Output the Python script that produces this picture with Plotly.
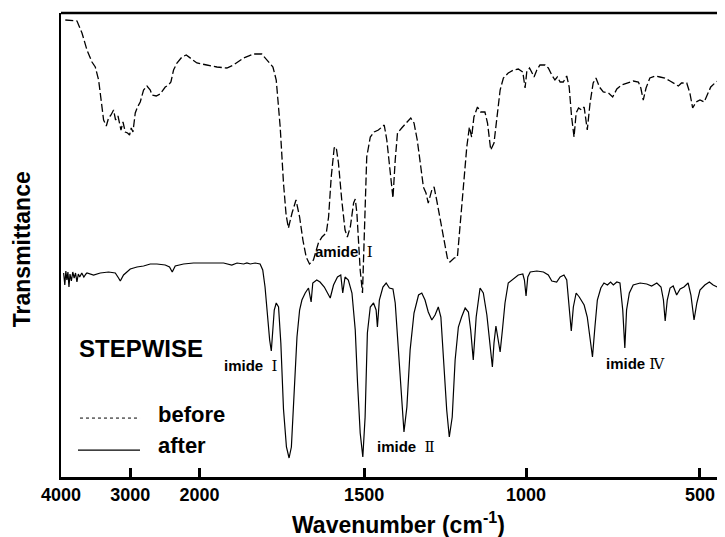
import numpy as np
import plotly.graph_objects as go

# ---- data (wavenumber in cm-1, transmittance in arbitrary units) ----
before_wn = [3938, 3769, 3697, 3625, 3553, 3505, 3457, 3408, 3385, 3346, 3313, 3278, 3241, 3212, 3177,
             3134, 3105, 3072, 3039, 3010, 2986, 2961, 2928, 2895, 2856, 2808, 2759, 2711, 2687, 2625,
             2567, 2495, 2447, 2413, 2375, 2326, 2254, 2192, 2134, 2038, 1978, 1947, 1917, 1897, 1866,
             1836, 1811, 1795, 1777, 1767, 1755, 1745, 1737, 1730, 1719, 1707, 1696, 1686, 1676, 1666,
             1654, 1639, 1628, 1615, 1608, 1600, 1591, 1585, 1578, 1568, 1558, 1551, 1542, 1532, 1527,
             1522, 1517, 1512, 1505, 1497, 1492, 1481, 1469, 1456, 1445, 1438, 1430, 1422, 1411, 1404,
             1397, 1384, 1368, 1356, 1346, 1336, 1325, 1317, 1309, 1302, 1291, 1284, 1276, 1265, 1253,
             1243, 1235, 1222, 1212, 1204, 1194, 1183, 1175, 1168, 1161, 1150, 1140, 1127, 1119, 1109,
             1099, 1090, 1080, 1070, 1055, 1039, 1024, 1010, 1003, 998, 990, 984, 977, 969, 960,
             945, 936, 926, 917, 910, 902, 893, 883, 876, 869, 862, 856, 849, 840, 833,
             828, 824, 816, 807, 799, 789, 778, 763, 751, 739, 725, 711, 692, 677, 670,
             663, 655, 644, 629, 615, 601, 586, 572, 562, 553, 538, 529, 521, 511, 500,
             488, 479, 469, 457, 444, 435, 428]
before_t = [457, 456, 444, 427, 415, 410, 397, 370, 357, 351, 359, 362, 367, 357, 361,
            347, 355, 345, 344, 342, 349, 345, 364, 370, 375, 387, 391, 387, 382, 381,
            383, 390, 392, 395, 407, 414, 420, 422, 419, 414, 412, 410, 409, 412, 419,
            423, 423, 417, 410, 397, 350, 294, 262, 249, 264, 277, 260, 237, 220, 213,
            217, 234, 240, 244, 260, 300, 329, 330, 314, 277, 247, 240, 250, 274, 278,
            264, 234, 207, 184, 277, 320, 340, 345, 347, 350, 352, 337, 310, 279, 317,
            344, 349, 355, 359, 354, 337, 310, 290, 284, 274, 287, 290, 277, 257, 237,
            219, 215, 219, 220, 250, 294, 330, 350, 340, 360, 370, 365, 365, 354, 327,
            334, 360, 387, 399, 404, 407, 408, 405, 389, 405, 409, 405, 400, 407, 412,
            412, 409, 402, 397, 400, 395, 395, 401, 390, 360, 340, 364, 369, 367, 370,
            354, 347, 374, 394, 399, 390, 385, 384, 380, 388, 392, 394, 396, 395, 389,
            377, 389, 399, 401, 400, 399, 396, 393, 391, 394, 394, 384, 369, 375, 377,
            375, 382, 390, 394, 397, 398, 396]

after_wn = [3962, 3945, 3930, 3915, 3900, 3885, 3870, 3850, 3830, 3810, 3790, 3770, 3750, 3730, 3700,
            3670, 3640, 3625, 3530, 3433, 3313, 3216, 3169, 3144, 3097, 3000, 2903, 2808, 2711, 2615,
            2495, 2433, 2394, 2351, 2231, 2087, 1988, 1957, 1927, 1902, 1886, 1866, 1856, 1846, 1831,
            1816, 1808, 1801, 1794, 1787, 1782, 1777, 1773, 1767, 1760, 1753, 1745, 1736, 1728, 1721,
            1713, 1704, 1696, 1689, 1679, 1669, 1661, 1656, 1644, 1634, 1621, 1611, 1603, 1593, 1581,
            1571, 1565, 1558, 1548, 1537, 1527, 1520, 1512, 1504, 1497, 1490, 1481, 1471, 1463, 1459,
            1453, 1442, 1432, 1422, 1411, 1404, 1394, 1384, 1377, 1368, 1358, 1346, 1332, 1322, 1312,
            1302, 1291, 1281, 1271, 1263, 1255, 1245, 1237, 1228, 1219, 1209, 1199, 1188, 1178, 1171,
            1163, 1154, 1142, 1132, 1121, 1113, 1104, 1099, 1093, 1086, 1080, 1073, 1065, 1055, 1039,
            1024, 1010, 1005, 1000, 995, 988, 969, 950, 936, 926, 912, 902, 891, 883, 876,
            870, 864, 856, 847, 833, 824, 816, 809, 802, 795, 785, 776, 766, 757, 749,
            739, 730, 722, 716, 711, 703, 692, 672, 653, 639, 624, 612, 605, 600, 594,
            586, 577, 567, 557, 546, 534, 526, 517, 509, 500, 486, 473, 462, 450, 441,
            433, 428]
after_t = [204, 192, 206, 197, 205, 190, 203, 196, 205, 199, 204, 195, 203, 200, 204,
           200, 203, 204, 202, 204, 205, 204, 199, 196, 202, 208, 210, 211, 213, 213,
           212, 210, 205, 211, 213, 214, 214, 214, 214, 212, 214, 213, 214, 213, 214,
           213, 207, 190, 160, 137, 126, 150, 167, 174, 170, 134, 68, 30, 19, 30,
           77, 140, 167, 177, 184, 189, 175, 194, 197, 195, 190, 184, 179, 192, 200,
           202, 184, 200, 197, 184, 147, 94, 44, 20, 60, 144, 170, 174, 167, 150,
           177, 190, 194, 189, 188, 174, 127, 77, 45, 70, 127, 164, 182, 184, 177,
           165, 157, 162, 170, 160, 120, 67, 40, 60, 117, 150, 160, 169, 165, 147,
           117, 160, 189, 184, 162, 134, 110, 134, 151, 137, 125, 147, 174, 194, 198,
           202, 203, 197, 181, 200, 205, 206, 205, 202, 196, 195, 200, 202, 197, 170,
           146, 170, 184, 180, 172, 160, 137, 120, 150, 177, 189, 194, 192, 195, 192,
           195, 194, 167, 129, 167, 184, 192, 194, 193, 191, 194, 190, 177, 156, 177,
           189, 191, 182, 188, 190, 194, 182, 157, 174, 187, 192, 195, 192, 190, 187,
           177, 177]

tick_wn = [4000, 3000, 2000, 1500, 1000, 500]
tick_text = ["4000", "3000", "2000", "1500", "1000", "500"]

# piecewise-linear wavenumber scale of the spectrometer chart
SCALE_WN = [4000, 2000, 1500, 1000, 500, 0]
SCALE_POS = [0.0, 138.6, 303.3, 465.3, 639.3, 813.3]


def axpos(w):
    return np.interp(-np.asarray(w, dtype=float), -np.asarray(SCALE_WN, dtype=float), SCALE_POS)


SANS = "Liberation Sans, Arial, Helvetica, sans-serif"
SERIF = "Liberation Serif, DejaVu Serif, Times New Roman, serif"

fig = go.Figure()
fig.add_trace(go.Scatter(x=axpos(before_wn), y=before_t, mode="lines",
                         line=dict(color="black", width=1.3, dash="8px,3px"),
                         name="before", showlegend=False))
fig.add_trace(go.Scatter(x=axpos(after_wn), y=after_t, mode="lines",
                         line=dict(color="black", width=1.2),
                         name="after", showlegend=False))


def num(s):
    return f"<span style='font-family:{SERIF};font-weight:normal'>{s}</span>"


labels = [
    (1655, 226, "<b>amide</b>\u00a0\u00a0" + num("Ⅰ")),
    (1932, 112, "<b>imide</b>\u00a0\u00a0" + num("Ⅰ")),
    (1466, 31, "<b>imide</b>\u00a0\u00a0" + num("Ⅱ")),
    (776, 114, "<b>imide</b>\u00a0" + num("Ⅳ")),
]
for wn, t, txt in labels:
    fig.add_annotation(x=float(axpos(wn)), y=t, xref="x", yref="y", text=txt,
                       showarrow=False, xanchor="left", yanchor="middle",
                       font=dict(family=SANS, size=15, color="black"))

fig.add_annotation(x=float(axpos(3765)), y=129, xref="x", yref="y", text="<b>STEPWISE</b>",
                   showarrow=False, xanchor="left", yanchor="middle",
                   font=dict(family=SANS, size=24, color="black"))

# legend (drawn manually to mimic the original key)
fig.add_shape(type="line", xref="paper", yref="paper", x0=0.0286, x1=0.119, y0=0.127, y1=0.127,
              line=dict(color="black", width=1, dash="dot"))
fig.add_shape(type="line", xref="paper", yref="paper", x0=0.0256, x1=0.119, y0=0.058, y1=0.058,
              line=dict(color="black", width=1.3))
fig.add_annotation(x=0.143, y=0.134, xref="paper", yref="paper", text="<b>before</b>",
                   showarrow=False, xanchor="left", yanchor="middle",
                   font=dict(family=SANS, size=22, color="black"))
fig.add_annotation(x=0.143, y=0.067, xref="paper", yref="paper", text="<b>after</b>",
                   showarrow=False, xanchor="left", yanchor="middle",
                   font=dict(family=SANS, size=22, color="black"))

# top frame line
fig.add_shape(type="line", xref="paper", yref="paper", x0=0, x1=1, y0=1, y1=1,
              line=dict(color="black", width=2.5))

# axis titles
fig.add_annotation(x=0.509, y=-0.099, xref="paper", yref="paper",
                   text="<b>Wavenumber (cm<sup>-1</sup>)</b>", showarrow=False,
                   xanchor="center", yanchor="middle",
                   font=dict(family=SANS, size=23, color="black"))
fig.add_annotation(x=-0.0587, y=0.491, xref="paper", yref="paper",
                   text="<b>Transmittance</b>", showarrow=False, textangle=-90,
                   xanchor="center", yanchor="middle",
                   font=dict(family=SANS, size=23, color="black"))

# the page body has an 8 px margin, so the figure is sized to end at the window edge
fig.update_layout(
    width=717, height=529,
    margin=dict(l=53, r=0, t=5, b=60),
    paper_bgcolor="white", plot_bgcolor="white",
    xaxis=dict(range=[float(axpos(4000)), float(axpos(428))], tickvals=axpos(tick_wn).tolist(),
               ticktext=tick_text, ticks="inside", ticklen=9, tickwidth=2.5, tickcolor="black",
               showline=True, linecolor="black", linewidth=2.5, showgrid=False, zeroline=False,
               tickfont=dict(family=SANS, size=18, color="black", weight="bold")),
    yaxis=dict(range=[0, 464], showticklabels=False, ticks="", showline=True,
               linecolor="black", linewidth=2, showgrid=False, zeroline=False),
)

fig.write_html("out.html")
